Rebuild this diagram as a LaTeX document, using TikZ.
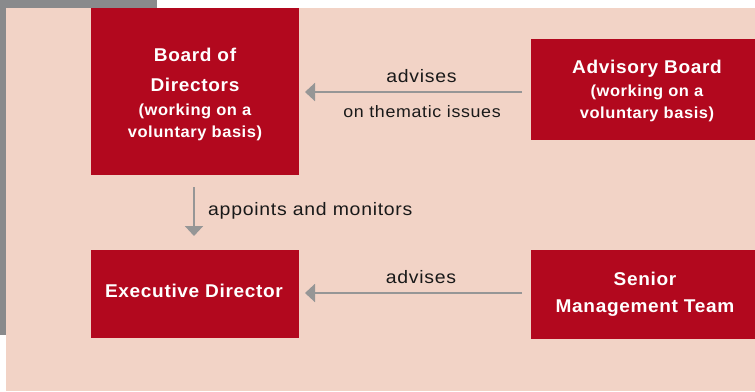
\documentclass[tikz,border=0pt]{standalone}
\usepackage{fontspec}
\setmainfont{Liberation Sans}
\newfontfamily\headfont{Liberation Sans}[LetterSpace=3.5,FakeStretch=1.03]
\newfontfamily\lblfont{Liberation Sans}[LetterSpace=4,FakeStretch=1.08]
\usetikzlibrary{arrows.meta}
\definecolor{bgpink}{RGB}{242,211,198}
\definecolor{boxred}{RGB}{178,8,30}
\definecolor{framegray}{RGB}{137,138,140}
\definecolor{arrowgray}{RGB}{150,150,150}
\tikzset{
  orgbox/.style={draw=none,fill=boxred,rectangle,inner sep=0pt,anchor=north west},
  headtxt/.style={anchor=base,inner sep=0pt,text=white,font=\headfont\bfseries\fontsize{18.5}{22}\selectfont},
  subtxt/.style={anchor=base,inner sep=0pt,text=white,font=\headfont\bfseries\fontsize{16}{20}\selectfont},
  lbltxt/.style={anchor=base,inner sep=0pt,text=black!90,font=\lblfont\fontsize{18}{22}\selectfont},
  smalllbl/.style={anchor=base,inner sep=0pt,text=black!90,font=\lblfont\fontsize{16.5}{20}\selectfont},
  conn/.style={draw=arrowgray,line width=2pt,-{Triangle[length=10pt,width=18pt]}},
}
\begin{document}
\begin{tikzpicture}[x=1pt,y=-1pt]
\useasboundingbox (0,0) rectangle (755,391);
\fill[framegray] (0,0) rectangle (157,335);
\fill[bgpink] (6,8) rectangle (755,391);
% boxes
\node[orgbox,minimum width=208pt,minimum height=167pt] (bod) at (91,8) {};
\node[orgbox,minimum width=208pt,minimum height=88pt] (ed) at (91,250) {};
\begin{scope}
\clip (0,0) rectangle (755,391);
\node[orgbox,minimum width=234pt,minimum height=101pt] (ab) at (531,39) {};
\node[orgbox,minimum width=234pt,minimum height=89pt] (smt) at (531,250) {};
\end{scope}
% box texts
\node[headtxt] (bod1) at (195,61.7) {Board of};
\node[headtxt] (bod2) at (195,91) {Directors};
\node[subtxt] (bod3) at (195,115) {(working on a};
\node[subtxt] (bod4) at (195,137) {voluntary basis)};
\node[headtxt] (ab1) at (647,73.3) {Advisory Board};
\node[subtxt] (ab2) at (647,96) {(working on a};
\node[subtxt] (ab3) at (647,118.5) {voluntary basis)};
\node[headtxt] (ed1) at (194,297.7) {Executive Director};
\node[headtxt] (smt1) at (645,285.7) {Senior};
\node[headtxt] (smt2) at (645,312) {Management Team};
% connectors
\coordinate (about) at (531,92);
\coordinate (bodin) at (299,92);
\draw[conn,shorten <=9pt,shorten >=6pt] (about) -- (bodin);
\coordinate (smtout) at (531,293);
\coordinate (edin) at (299,293);
\draw[conn,shorten <=9pt,shorten >=6pt] (smtout) -- (edin);
\coordinate (bodout) at (194,175);
\coordinate (edtop) at (194,250);
\draw[conn,shorten <=12pt,shorten >=14pt] (bodout) -- (edtop);
% labels
\node[lbltxt] (adv1) at (421.5,82.7) {advises};
\node[smalllbl] (adv1b) at (422,117.3) {on thematic issues};
\node[lbltxt,anchor=base west] (app) at (208,215) {appoints and monitors};
\node[lbltxt] (adv2) at (421,283.5) {advises};
\end{tikzpicture}
\end{document}
